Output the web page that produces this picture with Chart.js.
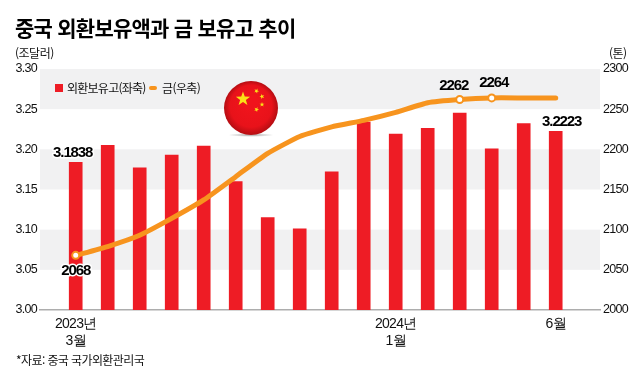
<!DOCTYPE html>
<html lang="ko">
<head>
<meta charset="utf-8">
<title>중국 외환보유액과 금 보유고 추이</title>
<script src="https://cdn.jsdelivr.net/npm/chart.js@4/dist/chart.umd.min.js"></script>
<style>
  html, body { margin: 0; padding: 0; background: #fff; }
  #wrap { position: relative; width: 640px; height: 387px; overflow: hidden; font-family: "Noto Sans CJK KR", sans-serif; color: #111; }
  #wrap canvas { position: absolute; left: 0; top: 0; }
  .txt { position: absolute; white-space: nowrap; line-height: 1; }
  #title { left: 15px; top: 17px; font-size: 21px; font-weight: 700; letter-spacing: -0.75px; color: #000; }
  #unitL { left: 15px; top: 47px; font-size: 12px; letter-spacing: -0.5px; }
  #unitR { left: 609px; top: 47px; font-size: 12px; letter-spacing: -0.5px; }
  #source { left: 16px; top: 354px; font-size: 12px; letter-spacing: -0.6px; }
  #legBar { position: absolute; left: 55px; top: 84px; width: 8px; height: 8px; background: #ee1c25; }
  #legLine { position: absolute; left: 149px; top: 86px; width: 8px; height: 4px; background: #f7941e; border-radius: 2px; }
  #legA { left: 67px; top: 82px; font-size: 12px; letter-spacing: -0.75px; }
  #legB { left: 162px; top: 82px; font-size: 12px; letter-spacing: -0.6px; }
</style>
</head>
<body>
<div id="wrap">
  <canvas id="chart" width="640" height="387"></canvas>
  <div class="txt" id="title">중국 외환보유액과 금 보유고 추이</div>
  <div class="txt" id="unitL">(조달러)</div>
  <div class="txt" id="unitR">(톤)</div>
  <div id="legBar"></div><div class="txt" id="legA">외환보유고(좌축)</div>
  <div id="legLine"></div><div class="txt" id="legB">금(우축)</div>
  <div class="txt" id="source">*자료: 중국 국가외환관리국</div>
</div>
<script>
const categories = ['2023-03', '2023-04', '2023-05', '2023-06', '2023-07', '2023-08', '2023-09', '2023-10',
  '2023-11', '2023-12', '2024-01', '2024-02', '2024-03', '2024-04', '2024-05', '2024-06'];
const reserves = [3.1838, 3.205, 3.177, 3.193, 3.204, 3.160, 3.115, 3.101,
  3.172, 3.234, 3.219, 3.226, 3.245, 3.2005, 3.232, 3.2223];
const gold = [2068, 2079, 2093, 2114, 2137, 2166, 2195, 2216,
  2228, 2236, 2246, 2258, 2262, 2264, 2264, 2264];
const leftTicks = [3.00, 3.05, 3.10, 3.15, 3.20, 3.25, 3.30];
const rightTicks = [2000, 2050, 2100, 2150, 2200, 2250, 2300];
const xTickLabels = { '2023-03': ['2023년', '3월'], '2024-01': ['2024년', '1월'], '2024-06': ['6월'] };
const bandRanges = [[3.25, 3.30], [3.15, 3.20], [3.05, 3.10]];
const markedGold = ['2023-03', '2024-03', '2024-04'];
const labelledReserves = ['2023-03', '2024-06'];

const RED = '#ee1c25';
const ORANGE = '#f7941e';
const numFont = '"Liberation Sans", sans-serif';

// gray stripes behind the bars
const bandsPlugin = {
  id: 'bands',
  beforeDraw(chart) {
    chart.ctx.letterSpacing = '-0.7px';
  },
  beforeDatasetsDraw(chart) {
    const { ctx, chartArea, scales } = chart;
    ctx.save();
    ctx.fillStyle = '#f1f1f2';
    bandRanges.forEach(([lo, hi]) => {
      const top = scales.y.getPixelForValue(hi);
      ctx.fillRect(chartArea.left, top, chartArea.width, scales.y.getPixelForValue(lo) - top);
    });
    ctx.restore();
    drawFlag(ctx, 251, 108, 27);
  }
};

function star(ctx, cx, cy, r, rot) {
  ctx.beginPath();
  for (let i = 0; i < 10; i++) {
    const rad = i % 2 ? r * 0.4 : r;
    const a = rot - Math.PI / 2 + i * Math.PI / 5;
    ctx.lineTo(cx + Math.cos(a) * rad, cy + Math.sin(a) * rad);
  }
  ctx.closePath();
  ctx.fill();
}

// round flag decoration
function drawFlag(ctx, x, y, r) {
  ctx.save();
  const shadow = ctx.createRadialGradient(x, y + r, 0, x, y + r, r * 0.85);
  shadow.addColorStop(0, 'rgba(90,90,90,0.55)');
  shadow.addColorStop(1, 'rgba(90,90,90,0)');
  ctx.save();
  ctx.translate(0, (y + r) * 0.92);
  ctx.scale(1, 0.08);
  ctx.fillStyle = shadow;
  ctx.fillRect(x - r, y + r - r, r * 2, r * 2);
  ctx.restore();

  const ball = ctx.createRadialGradient(x, y - r * 0.25, r * 0.2, x, y, r);
  ball.addColorStop(0, '#f0141c');
  ball.addColorStop(0.72, '#e8121a');
  ball.addColorStop(1, '#b40d12');
  ctx.fillStyle = ball;
  ctx.beginPath();
  ctx.arc(x, y, r, 0, Math.PI * 2);
  ctx.fill();

  ctx.fillStyle = '#fbe216';
  star(ctx, x - 8, y - 9, 7.5, 0);
  star(ctx, x + 5.5, y - 17, 2.6, 0.4);
  star(ctx, x + 11, y - 11.5, 2.6, 0.9);
  star(ctx, x + 11, y - 3.5, 2.6, 0);
  star(ctx, x + 5.5, y + 1.5, 2.6, 0.4);
  ctx.restore();
}

function putLabel(ctx, text, x, y, halo) {
  if (halo) {
    ctx.lineWidth = 3;
    ctx.strokeStyle = '#fff';
    ctx.lineJoin = 'round';
    ctx.strokeText(text, x, y);
  }
  ctx.fillText(text, x, y);
}

// value labels on the first and last bars and on the marked gold points
const valueLabelPlugin = {
  id: 'valueLabels',
  afterDatasetsDraw(chart) {
    const { ctx } = chart;
    const bars = chart.getDatasetMeta(0).data;
    const pts = chart.getDatasetMeta(1).data;
    ctx.save();
    ctx.font = 'bold 15px ' + numFont;
    ctx.fillStyle = '#000';
    ctx.textAlign = 'center';
    ctx.textBaseline = 'middle';
    ctx.letterSpacing = '-1.1px';
    labelledReserves.forEach(c => {
      const i = categories.indexOf(c);
      const dx = i === 0 ? -3 : 6;
      putLabel(ctx, reserves[i].toFixed(4), bars[i].x + dx, bars[i].y - 9.5, true);
    });
    markedGold.forEach(c => {
      const i = categories.indexOf(c);
      const dx = i === 0 ? 0 : i === 12 ? -6 : 2;
      const dy = i === 0 ? 15 : i === 12 ? -14 : -15;
      putLabel(ctx, String(gold[i]), pts[i].x + dx, pts[i].y + dy, i === 0);
    });
    ctx.restore();
  }
};

const tickFont = { family: numFont, size: 12.5 };

new Chart(document.getElementById('chart'), {
  type: 'bar',
  data: {
    datasets: [{
      type: 'bar',
      data: categories.map((c, i) => ({ x: i, y: reserves[i] })),
      yAxisID: 'y',
      backgroundColor: RED,
      barThickness: 13,
      order: 2
    }, {
      type: 'line',
      data: categories.map((c, i) => ({ x: i, y: gold[i] })),
      yAxisID: 'y1',
      borderColor: ORANGE,
      borderWidth: 5,
      borderCapStyle: 'round',
      tension: 0.15,
      pointRadius: ctx => markedGold.includes(categories[ctx.dataIndex]) ? 3.5 : 0,
      pointBackgroundColor: '#fff',
      pointBorderColor: ORANGE,
      pointBorderWidth: 2,
      order: 1
    }]
  },
  options: {
    responsive: false,
    animation: false,
    layout: { padding: { top: 69, left: 0, right: 0, bottom: 0 } },
    plugins: { legend: { display: false }, tooltip: { enabled: false }, title: { display: false } },
    scales: {
      x: {
        type: 'linear',
        offset: false,
        min: -1.116,
        max: 16.384,
        grid: { display: false, drawTicks: false },
        border: { color: '#adadad', width: 1.5 },
        afterFit: s => { s.height = 77; },
        afterBuildTicks: s => {
          s.ticks = Object.keys(xTickLabels).map(c => ({ value: categories.indexOf(c) }));
        },
        ticks: {
          autoSkip: false,
          maxRotation: 0,
          padding: 6,
          color: '#111',
          font: { family: numFont, size: 14 },
          callback: v => xTickLabels[categories[v]]
        }
      },
      y: {
        position: 'left',
        min: 3.0,
        max: 3.3,
        grid: { display: false, drawTicks: false },
        border: { display: false },
        afterFit: s => { s.width = 40; },
        afterBuildTicks: s => { s.ticks = leftTicks.map(v => ({ value: v })); },
        ticks: { padding: 3, color: '#111', font: tickFont, callback: v => v.toFixed(2) }
      },
      y1: {
        position: 'right',
        min: 2000,
        max: 2300,
        grid: { display: false, drawTicks: false },
        border: { display: false },
        afterFit: s => { s.width = 40; },
        afterBuildTicks: s => { s.ticks = rightTicks.map(v => ({ value: v })); },
        ticks: { padding: 3, color: '#111', font: tickFont, callback: v => String(v) }
      }
    }
  },
  plugins: [bandsPlugin, valueLabelPlugin]
});
</script>
</body>
</html>
